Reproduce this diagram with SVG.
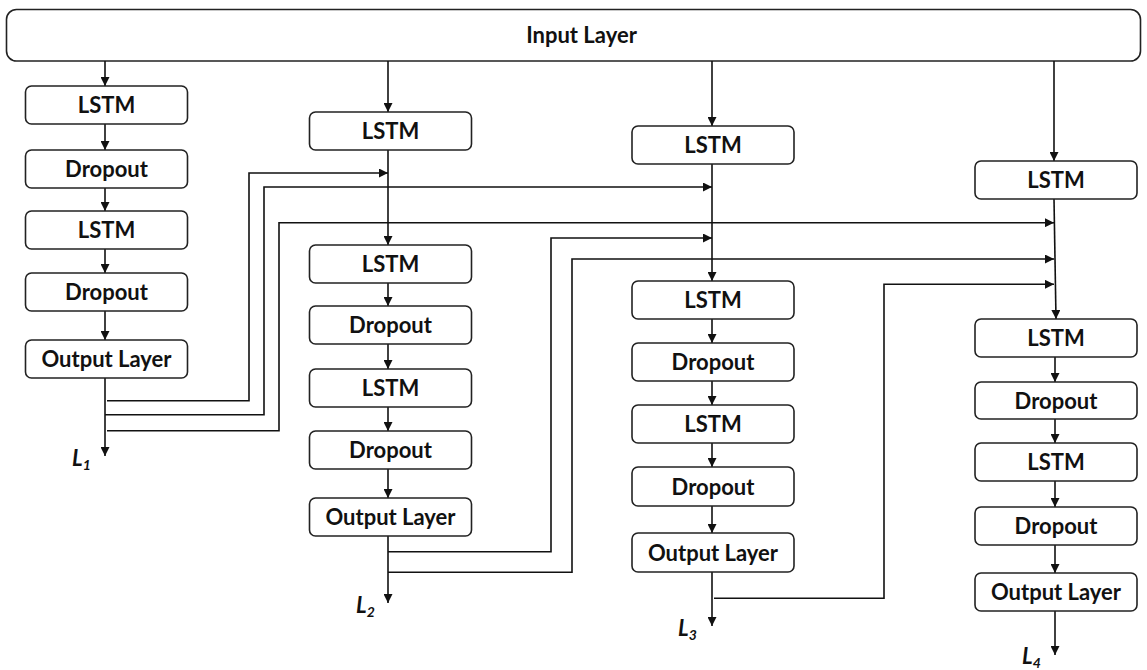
<svg xmlns="http://www.w3.org/2000/svg" width="1147" height="670" viewBox="0 0 1147 670">
  <defs>
    <marker id="arrow" viewBox="0 0 10 10" markerUnits="userSpaceOnUse" markerWidth="10" markerHeight="9" refX="10" refY="5" orient="auto">
      <path d="M0,0 L10,5 L0,10 z" fill="#111"/>
    </marker>
    <style>
      .box { fill: #fff; stroke: #222; stroke-width: 1.6; }
      .lbl { font-family: Lato, "Open Sans", sans-serif; font-weight: bold; font-size: 22px; fill: #111; text-anchor: middle; }
      .out { font-family: Lato, "Open Sans", sans-serif; font-weight: bold; font-style: italic; font-size: 22px; fill: #111; }
      .sub { font-size: 14px; }
      .wire { fill: none; stroke: #111; stroke-width: 1.6; }
      .arr { marker-end: url(#arrow); }
    </style>
  </defs>

  <rect width="1147" height="670" fill="#fff"/>

  <!-- shared input -->
  <g id="input-layer">
    <rect class="box" x="6.5" y="9.5" width="1134" height="51.5" rx="10"/>
    <text class="lbl" x="581.5" y="43">Input Layer</text>
  </g>

  <!-- connectors -->
  <g id="connectors">
    <!-- input to the first LSTM of each branch -->
    <path class="wire arr" d="M105,61 V86"/>
    <path class="wire arr" d="M388,61 V112"/>
    <path class="wire arr" d="M712,61 V126"/>
    <path class="wire arr" d="M1054,61 V161"/>

    <!-- branch 1 -->
    <path class="wire arr" d="M105,124 V150"/>
    <path class="wire arr" d="M105,188 V211"/>
    <path class="wire arr" d="M105,249 V273"/>
    <path class="wire arr" d="M105,311 V340"/>
    <path class="wire arr" d="M105,378 V456"/>
    <path class="wire arr" d="M107,400.7 H249 V173 H388"/>
    <path class="wire arr" d="M105,414.7 H264 V187 H712"/>
    <path class="wire arr" d="M107,430.7 H279 V222.7 H1054"/>

    <!-- branch 2 -->
    <path class="wire arr" d="M388,150 V245"/>
    <path class="wire arr" d="M388,283 V306"/>
    <path class="wire arr" d="M388,344 V369"/>
    <path class="wire arr" d="M388,407 V431"/>
    <path class="wire arr" d="M388,469 V498"/>
    <path class="wire arr" d="M388,536 V603"/>
    <path class="wire arr" d="M388,551.7 H551 V238 H712"/>
    <path class="wire arr" d="M388,572.3 H572 V259 H1054"/>

    <!-- branch 3 -->
    <path class="wire arr" d="M712,164 V281"/>
    <path class="wire arr" d="M712,319 V343"/>
    <path class="wire arr" d="M712,381 V405"/>
    <path class="wire arr" d="M712,443 V467"/>
    <path class="wire arr" d="M712,506 V533"/>
    <path class="wire arr" d="M712,572 V626"/>
    <path class="wire arr" d="M714,598.3 H884 V284.3 H1054"/>

    <!-- branch 4 -->
    <path class="wire arr" d="M1054,199 L1056,319"/>
    <path class="wire arr" d="M1055,357 V382"/>
    <path class="wire arr" d="M1055,419 V443"/>
    <path class="wire arr" d="M1055,481 V507"/>
    <path class="wire arr" d="M1055,545 V573"/>
    <path class="wire arr" d="M1055,611 V655"/>
  </g>

  <!-- branch 1 layers -->
  <g id="b1-lstm1"><rect class="box" x="25.5" y="86" width="162" height="38" rx="6"/><text class="lbl" x="106.5" y="113">LSTM</text></g>
  <g id="b1-drop1"><rect class="box" x="25.5" y="150" width="162" height="38" rx="6"/><text class="lbl" x="106.5" y="177">Dropout</text></g>
  <g id="b1-lstm2"><rect class="box" x="25.5" y="211" width="162" height="38" rx="6"/><text class="lbl" x="106.5" y="238">LSTM</text></g>
  <g id="b1-drop2"><rect class="box" x="25.5" y="273" width="162" height="38" rx="6"/><text class="lbl" x="106.5" y="300">Dropout</text></g>
  <g id="b1-out"><rect class="box" x="25.5" y="340" width="162" height="38" rx="6"/><text class="lbl" x="106.5" y="367">Output Layer</text></g>
  <g id="b1-loss"><text class="out" x="72" y="466">L<tspan class="sub" dy="4">1</tspan></text></g>

  <!-- branch 2 layers -->
  <g id="b2-lstm0"><rect class="box" x="309.5" y="112" width="162" height="38" rx="6"/><text class="lbl" x="390.5" y="139">LSTM</text></g>
  <g id="b2-lstm1"><rect class="box" x="309.5" y="245" width="162" height="38" rx="6"/><text class="lbl" x="390.5" y="272">LSTM</text></g>
  <g id="b2-drop1"><rect class="box" x="309.5" y="306" width="162" height="38" rx="6"/><text class="lbl" x="390.5" y="333">Dropout</text></g>
  <g id="b2-lstm2"><rect class="box" x="309.5" y="369" width="162" height="38" rx="6"/><text class="lbl" x="390.5" y="396">LSTM</text></g>
  <g id="b2-drop2"><rect class="box" x="309.5" y="431" width="162" height="38" rx="6"/><text class="lbl" x="390.5" y="458">Dropout</text></g>
  <g id="b2-out"><rect class="box" x="309.5" y="498" width="162" height="38" rx="6"/><text class="lbl" x="390.5" y="525">Output Layer</text></g>
  <g id="b2-loss"><text class="out" x="356" y="613">L<tspan class="sub" dy="4">2</tspan></text></g>

  <!-- branch 3 layers -->
  <g id="b3-lstm0"><rect class="box" x="632" y="126" width="162" height="38" rx="6"/><text class="lbl" x="713" y="153">LSTM</text></g>
  <g id="b3-lstm1"><rect class="box" x="632" y="281" width="162" height="38" rx="6"/><text class="lbl" x="713" y="308">LSTM</text></g>
  <g id="b3-drop1"><rect class="box" x="632" y="343" width="162" height="38" rx="6"/><text class="lbl" x="713" y="370">Dropout</text></g>
  <g id="b3-lstm2"><rect class="box" x="632" y="405" width="162" height="38" rx="6"/><text class="lbl" x="713" y="432">LSTM</text></g>
  <g id="b3-drop2"><rect class="box" x="632" y="467" width="162" height="39" rx="6"/><text class="lbl" x="713" y="494.5">Dropout</text></g>
  <g id="b3-out"><rect class="box" x="632" y="533" width="162" height="39" rx="6"/><text class="lbl" x="713" y="560.5">Output Layer</text></g>
  <g id="b3-loss"><text class="out" x="678" y="636">L<tspan class="sub" dy="4">3</tspan></text></g>

  <!-- branch 4 layers -->
  <g id="b4-lstm0"><rect class="box" x="975" y="161" width="162" height="38" rx="6"/><text class="lbl" x="1056" y="188">LSTM</text></g>
  <g id="b4-lstm1"><rect class="box" x="975" y="319" width="162" height="38" rx="6"/><text class="lbl" x="1056" y="346">LSTM</text></g>
  <g id="b4-drop1"><rect class="box" x="975" y="382" width="162" height="37" rx="6"/><text class="lbl" x="1056" y="408.5">Dropout</text></g>
  <g id="b4-lstm2"><rect class="box" x="975" y="443" width="162" height="38" rx="6"/><text class="lbl" x="1056" y="470">LSTM</text></g>
  <g id="b4-drop2"><rect class="box" x="975" y="507" width="162" height="38" rx="6"/><text class="lbl" x="1056" y="534">Dropout</text></g>
  <g id="b4-out"><rect class="box" x="975" y="573" width="162" height="38" rx="6"/><text class="lbl" x="1056" y="600">Output Layer</text></g>
  <g id="b4-loss"><text class="out" x="1022" y="664">L<tspan class="sub" dy="4">4</tspan></text></g>
</svg>
